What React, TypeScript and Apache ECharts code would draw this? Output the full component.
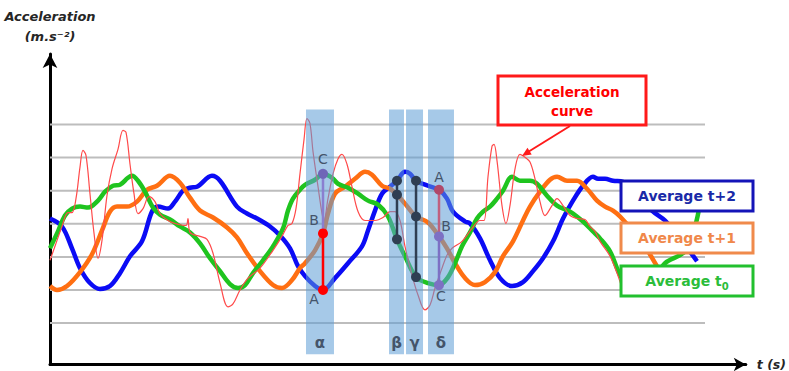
import React, { useEffect, useRef } from "react";
import * as echarts from "echarts";

// ---------- data ----------
const gridLevels = [1, 2, 3, 4, 5, 6, 7];
const gridEndX = 93.57;

// Average t+2 (blue)
const averageT2: [number, number][] = [
  [0, 4.16], [1.71, 3.92], [3.14, 3.26], [4.29, 2.66], [5.71, 2.21], [7.14, 2.03],
  [8.57, 2.12], [10.0, 2.51], [11.43, 3.02], [13.14, 3.47], [14.57, 4.37], [15.43, 4.52],
  [16.86, 4.46], [17.86, 4.67], [19.0, 5.0], [20.0, 5.09], [21.0, 5.12], [23.14, 5.45],
  [24.29, 5.3], [26.71, 4.52], [28.14, 4.31], [29.57, 4.16], [31.43, 3.92], [32.86, 3.65],
  [34.29, 3.26], [35.43, 2.72], [36.43, 2.42], [37.86, 2.12], [39.0, 2.0], [40.71, 2.36],
  [42.57, 2.81], [44.57, 3.32], [45.43, 3.8], [46.43, 4.4], [47.43, 4.91], [48.57, 5.12],
  [49.57, 5.3], [50.71, 5.57], [51.43, 5.51], [52.29, 5.3], [54.0, 5.15], [55.57, 5.03],
  [56.71, 4.76], [57.57, 4.37], [59.29, 4.07], [60.0, 4.01], [61.43, 3.56], [62.86, 2.9],
  [64.29, 2.36], [66.0, 2.12], [67.57, 2.24], [69.0, 2.57], [70.43, 2.96], [71.86, 3.47],
  [73.29, 4.16], [74.71, 4.7], [76.14, 5.15], [77.57, 5.42], [78.29, 5.36], [79.29, 5.36],
  [80.43, 5.3], [81.86, 5.27], [84.0, 4.91], [86.0, 4.4], [87.86, 4.1], [90.0, 3.56],
  [92.43, 2.87],
];

// Average t+1 (orange)
const averageT1: [number, number][] = [
  [0, 2.12], [1.0, 2.0], [2.43, 2.12], [4.29, 2.54], [6.0, 3.08], [7.43, 3.8],
  [8.57, 4.37], [9.57, 4.52], [11.0, 4.52], [12.43, 4.67], [13.86, 5.03], [15.29, 5.15],
  [17.14, 5.45], [18.57, 5.24], [20.0, 4.79], [21.43, 4.4], [23.29, 4.19], [25.29, 3.89],
  [26.71, 3.59], [28.14, 3.11], [30.0, 2.57], [31.86, 2.15], [33.14, 2.06], [34.57, 2.3],
  [35.71, 2.66], [36.43, 2.81], [37.86, 3.2], [39.0, 3.71], [39.71, 4.31], [40.71, 4.91],
  [42.14, 5.12], [43.57, 5.36], [45.0, 5.57], [46.0, 5.48], [47.43, 5.15], [48.57, 5.06],
  [49.57, 4.88], [50.71, 4.61], [52.29, 4.22], [54.0, 4.04], [55.57, 3.62], [56.71, 3.26],
  [57.86, 2.81], [59.29, 2.36], [60.71, 2.15], [62.14, 2.24], [63.57, 2.54], [64.71, 3.02],
  [66.14, 3.47], [67.57, 4.1], [68.57, 4.52], [70.0, 4.97], [71.43, 5.33], [72.43, 5.42],
  [73.86, 5.3], [75.29, 5.3], [76.71, 5.06], [78.14, 4.7], [79.29, 4.52], [80.43, 4.4],
  [81.43, 4.22], [83.57, 3.71], [85.43, 3.17], [86.71, 2.72], [88.14, 2.3],
];

// Average t0 (green)
const averageT0: [number, number][] = [
  [0, 3.26], [1.14, 3.77], [2.14, 4.25], [3.14, 4.46], [4.29, 4.52], [5.43, 4.49],
  [6.86, 4.7], [7.86, 4.97], [9.0, 5.15], [10.0, 5.18], [11.14, 5.39], [11.71, 5.45],
  [12.57, 5.3], [13.57, 4.97], [14.71, 4.49], [15.71, 4.28], [17.14, 4.13], [18.57, 3.92],
  [20.0, 3.74], [21.43, 3.41], [22.86, 2.96], [24.29, 2.57], [25.71, 2.18], [26.86, 2.06],
  [27.86, 2.15], [29.0, 2.51], [30.43, 2.9], [31.86, 3.32], [33.29, 3.86], [34.0, 4.4],
  [34.71, 4.76], [35.71, 5.03], [36.43, 5.18], [37.86, 5.33], [39.0, 5.51], [40.29, 5.39],
  [41.14, 5.21], [42.57, 5.09], [44.0, 4.91], [45.43, 4.7], [46.86, 4.58], [48.29, 4.22],
  [49.57, 3.53], [50.71, 3.02], [52.29, 2.39], [54.0, 2.21], [55.57, 2.15], [56.86, 2.39],
  [57.86, 2.81], [58.86, 3.32], [60.0, 3.74], [61.0, 4.16], [61.86, 4.37], [62.86, 4.52],
  [63.86, 4.76], [64.71, 5.0], [66.0, 5.42], [67.14, 5.3], [68.57, 5.3], [69.57, 5.21],
  [71.0, 4.85], [72.43, 4.55], [74.29, 4.37], [76.14, 4.07], [77.57, 3.77], [78.57, 3.56],
  [80.0, 3.17], [81.0, 2.66], [81.71, 2.36], [84.29, 2.0], [86.43, 2.36], [87.86, 2.81],
  [90.71, 3.17], [92.14, 3.92], [92.86, 4.61],
];

// Acceleration curve (red, thin)
const accelerationCurve: [number, number][] = [
  [0, 2.9], [0.71, 3.32], [1.71, 3.92], [2.57, 4.34], [3.14, 4.34], [3.71, 4.76],
  [4.29, 5.72], [4.71, 6.22], [5.14, 6.07], [5.71, 4.91], [6.29, 3.71], [6.86, 2.96],
  [7.43, 3.5], [8.14, 4.85], [8.86, 5.66], [9.71, 6.25], [10.43, 6.82], [10.86, 6.76],
  [11.43, 5.8], [12.0, 4.91], [12.57, 4.31], [13.29, 4.46], [14.14, 4.82], [15.0, 4.67],
  [15.71, 4.31], [16.86, 4.1], [17.86, 4.01], [19.43, 3.95], [19.71, 4.16], [20.0, 3.74],
  [21.43, 3.62], [22.43, 3.53], [23.29, 3.11], [24.29, 2.21], [25.43, 1.49], [26.14, 1.58],
  [27.14, 2.0], [28.29, 2.36], [30.0, 2.66], [31.86, 3.2], [33.14, 3.62], [34.0, 3.95],
  [34.57, 4.01], [35.14, 4.46], [35.71, 5.51], [36.29, 6.55], [36.71, 7.18], [37.14, 7.03],
  [37.57, 6.19], [38.29, 5.12], [38.86, 4.31], [39.14, 4.1], [39.71, 4.76], [40.43, 5.51],
  [41.14, 5.96], [41.71, 6.1], [42.43, 5.8], [43.14, 5.12], [44.0, 4.37], [45.0, 4.1],
  [46.43, 4.1], [47.57, 4.19], [48.57, 4.37], [49.29, 4.37], [50.0, 4.1], [50.71, 3.32],
  [51.71, 2.45], [52.57, 1.85], [53.57, 1.4], [54.29, 1.55], [55.0, 2.06], [56.0, 2.66],
  [56.71, 3.05], [57.43, 3.26], [58.86, 3.47], [60.29, 3.86], [61.43, 4.1], [62.0, 4.1],
  [62.57, 5.42], [63.14, 6.34], [63.43, 6.4], [63.86, 5.9], [64.57, 4.55], [65.14, 4.01],
  [65.71, 4.55], [66.43, 5.66], [67.14, 6.1], [67.86, 6.01], [68.57, 5.87], [69.29, 5.36],
  [70.0, 4.67], [70.71, 4.25], [71.71, 4.55], [72.43, 4.76], [73.29, 4.55], [74.29, 4.25],
  [75.29, 4.16], [76.43, 4.13], [77.14, 3.92], [77.86, 3.77], [78.57, 3.47], [80.0, 3.02],
  [81.0, 2.51], [81.71, 2.06],
];

// highlighted windows
const bandNames = ["α", "β", "γ", "δ"];
const bandStarts = [36.57, 48.43, 50.86, 54.0];
const bandEnds = [40.57, 50.57, 53.29, 57.71];
const bandBottom = 0.06;
const bandTop = 7.45;

// measured points A, B, C
const alphaX = 39.0;
const alphaValues = { A: 2.0, B: 3.71, C: 5.51 };
const betaX = 49.57;
const betaValues = [5.3, 4.88, 3.53];
const gammaX = 52.29;
const gammaValues = [5.3, 4.22, 2.39];
const deltaX = 55.57;
const deltaValues = { A: 5.03, B: 3.62, C: 2.15 };

// ---------- styles ----------
const FONT = '"DejaVu Sans", "Open Sans", sans-serif';
const SLATE = "#44546a";
const BLUE = "#0b0bf5";
const ORANGE = "#ff6f12";
const GREEN = "#1fc41f";
const RED = "#ff4a4a";

const labelStyle = (text: string, offset: [number, number]) => ({
  show: true,
  formatter: text,
  position: "inside",
  offset,
  color: SLATE,
  fontSize: 14,
  fontFamily: FONT,
});

const curve = (name: string, data: [number, number][], color: string, width: number) => ({
  name,
  type: "line",
  data,
  smooth: 0.35,
  symbol: "none",
  showSymbol: false,
  silent: true,
  z: 2,
  lineStyle: { color, width },
});

const segment = (name: string, data: any[], color: string, z: number) => ({
  name,
  type: "line",
  data,
  symbol: "circle",
  symbolSize: 10,
  showSymbol: true,
  silent: true,
  z,
  lineStyle: { color, width: 2.5 },
  itemStyle: { color },
});

export default function App() {
  const ref = useRef<HTMLDivElement>(null);

  useEffect(() => {
    if (!ref.current) return;
    const chart = echarts.init(ref.current, undefined, { renderer: "svg" });

    const option: any = {
      animation: false,
      grid: { left: 50, right: 43, top: 54, bottom: 3.75 },
      xAxis: {
        type: "value",
        min: 0,
        max: 99.4,
        axisLine: {
          show: true,
          onZero: false,
          symbol: ["none", "arrow"],
          symbolSize: [10, 12],
          lineStyle: { color: "#000", width: 3 },
        },
        axisTick: { show: false },
        axisLabel: { show: false },
        splitLine: { show: false },
        name: "t (s)",
        nameLocation: "end",
        nameGap: 11,
        nameTextStyle: {
          fontFamily: FONT,
          fontStyle: "italic",
          fontWeight: "bold",
          fontSize: 12.5,
          color: "#262626",
        },
      },
      yAxis: {
        type: "value",
        min: -0.25,
        max: 9.13,
        axisLine: {
          show: true,
          onZero: false,
          symbol: ["none", "arrow"],
          symbolSize: [11, 14],
          lineStyle: { color: "#000", width: 3 },
        },
        axisTick: { show: false },
        axisLabel: { show: false },
        splitLine: { show: false },
        name: "Acceleration\n(m.s⁻²)",
        nameLocation: "end",
        nameGap: 8,
        nameTextStyle: {
          fontFamily: FONT,
          fontStyle: "italic",
          fontWeight: "bold",
          fontSize: 13,
          lineHeight: 20,
          color: "#262626",
          align: "center",
        },
      },
      series: [
        {
          name: "grid",
          type: "custom",
          silent: true,
          z: 1,
          clip: false,
          encode: { x: [0, 1], y: 2 },
          data: gridLevels.map((v) => [0, gridEndX, v]),
          renderItem: (params: any, api: any) => {
            const y = api.value(2);
            const p0 = api.coord([api.value(0), y]);
            const p1 = api.coord([api.value(1), y]);
            return {
              type: "line",
              shape: { x1: p0[0], y1: p0[1], x2: p1[0], y2: p1[1] },
              style: { stroke: "#bdbdbd", lineWidth: 2 },
            };
          },
        },
        curve("Average t+2", averageT2, BLUE, 4.5),
        curve("Average t+1", averageT1, ORANGE, 4.5),
        curve("Average t0", averageT0, GREEN, 4.5),
        curve("Acceleration curve", accelerationCurve, RED, 1.2),
        {
          name: "windows",
          type: "custom",
          silent: true,
          z: 3,
          clip: false,
          encode: { x: [0, 1], y: [2, 3] },
          data: bandStarts.map((s, i) => [s, bandEnds[i], bandBottom, bandTop]),
          renderItem: (params: any, api: any) => {
            const p0 = api.coord([api.value(0), api.value(3)]);
            const p1 = api.coord([api.value(1), api.value(2)]);
            return {
              type: "group",
              children: [
                {
                  type: "rect",
                  shape: { x: p0[0], y: p0[1], width: p1[0] - p0[0], height: p1[1] - p0[1] },
                  style: { fill: "rgba(93,156,214,0.55)" },
                },
                {
                  type: "text",
                  x: (p0[0] + p1[0]) / 2,
                  y: p1[1] - 11,
                  style: {
                    text: bandNames[params.dataIndex],
                    align: "center",
                    verticalAlign: "middle",
                    fill: SLATE,
                    font: `bold 15px ${FONT}`,
                  },
                },
              ],
            };
          },
        },
        // alpha window
        segment(
          "alpha B-C",
          [
            { value: [alphaX, alphaValues.B], symbol: "none" },
            { value: [alphaX, alphaValues.C], itemStyle: { color: "#6f66b8" }, label: labelStyle("C", [0, -15]) },
          ],
          "#8a7fd0",
          4
        ),
        segment(
          "alpha A-B",
          [
            { value: [alphaX, alphaValues.A], label: labelStyle("A", [-9, 9]) },
            { value: [alphaX, alphaValues.B], label: labelStyle("B", [-9, -13]) },
          ],
          "#ff0000",
          5
        ),
        // beta window
        segment("beta", betaValues.map((v) => [betaX, v]), "#2f3e52", 4),
        // gamma window
        segment("gamma", gammaValues.map((v) => [gammaX, v]), "#2f3e52", 4),
        // delta window
        segment(
          "delta A-B",
          [
            { value: [deltaX, deltaValues.A], itemStyle: { color: "#b0486a" }, label: labelStyle("A", [0, -13]) },
            { value: [deltaX, deltaValues.B], symbol: "none" },
          ],
          "#c0607f",
          4
        ),
        segment(
          "delta B-C",
          [
            { value: [deltaX, deltaValues.B], label: labelStyle("B", [7, -10]) },
            { value: [deltaX, deltaValues.C], label: labelStyle("C", [2, 11]) },
          ],
          "#7d70c4",
          5
        ),
      ],
      graphic: [
        // callout
        {
          type: "rect",
          z: 100,
          shape: { x: 498, y: 76, width: 148, height: 49 },
          style: { fill: "#fff", stroke: "#ff1a1a", lineWidth: 3 },
        },
        {
          type: "text",
          z: 101,
          x: 572,
          y: 101,
          style: {
            text: "Acceleration\ncurve",
            align: "center",
            verticalAlign: "middle",
            fill: "#ff0000",
            font: `bold 13.5px ${FONT}`,
            lineHeight: 19,
          },
        },
        {
          type: "line",
          z: 100,
          shape: { x1: 570, y1: 126, x2: 528, y2: 152 },
          style: { stroke: "#ff1a1a", lineWidth: 2 },
        },
        {
          type: "polygon",
          z: 100,
          shape: { points: [[522, 156], [531.7, 154.6], [527.5, 147.8]] },
          style: { fill: "#ff1a1a" },
        },
        // legend boxes
        {
          type: "rect",
          z: 100,
          shape: { x: 621, y: 181, width: 132, height: 30 },
          style: { fill: "#fff", stroke: "#1414b8", lineWidth: 3 },
        },
        {
          type: "text",
          z: 101,
          x: 687,
          y: 196,
          style: {
            text: "Average t+2",
            align: "center",
            verticalAlign: "middle",
            fill: "#1a2aa8",
            font: `bold 14px ${FONT}`,
          },
        },
        {
          type: "rect",
          z: 100,
          shape: { x: 621, y: 223, width: 132, height: 30 },
          style: { fill: "#fff", stroke: "#f08a4b", lineWidth: 3 },
        },
        {
          type: "text",
          z: 101,
          x: 687,
          y: 238,
          style: {
            text: "Average t+1",
            align: "center",
            verticalAlign: "middle",
            fill: "#f0884a",
            font: `bold 14px ${FONT}`,
          },
        },
        {
          type: "rect",
          z: 100,
          shape: { x: 621, y: 266, width: 132, height: 30 },
          style: { fill: "#fff", stroke: "#22c02e", lineWidth: 3 },
        },
        {
          type: "text",
          z: 101,
          x: 687,
          y: 281,
          style: {
            text: "{m|Average t}{s|0}",
            align: "center",
            verticalAlign: "middle",
            fill: "#2bbd3a",
            font: `bold 14px ${FONT}`,
            rich: {
              m: { font: `bold 14px ${FONT}`, fill: "#2bbd3a", lineHeight: 20 },
              s: { font: `bold 10px ${FONT}`, fill: "#2bbd3a", lineHeight: 10, verticalAlign: "bottom" },
            },
          },
        },
      ],
    };

    chart.setOption(option);
    return () => chart.dispose();
  }, []);

  return (
    <div
      ref={ref}
      style={{ position: "fixed", left: 0, top: 0, width: 789, height: 371, background: "#fff" }}
    />
  );
}
